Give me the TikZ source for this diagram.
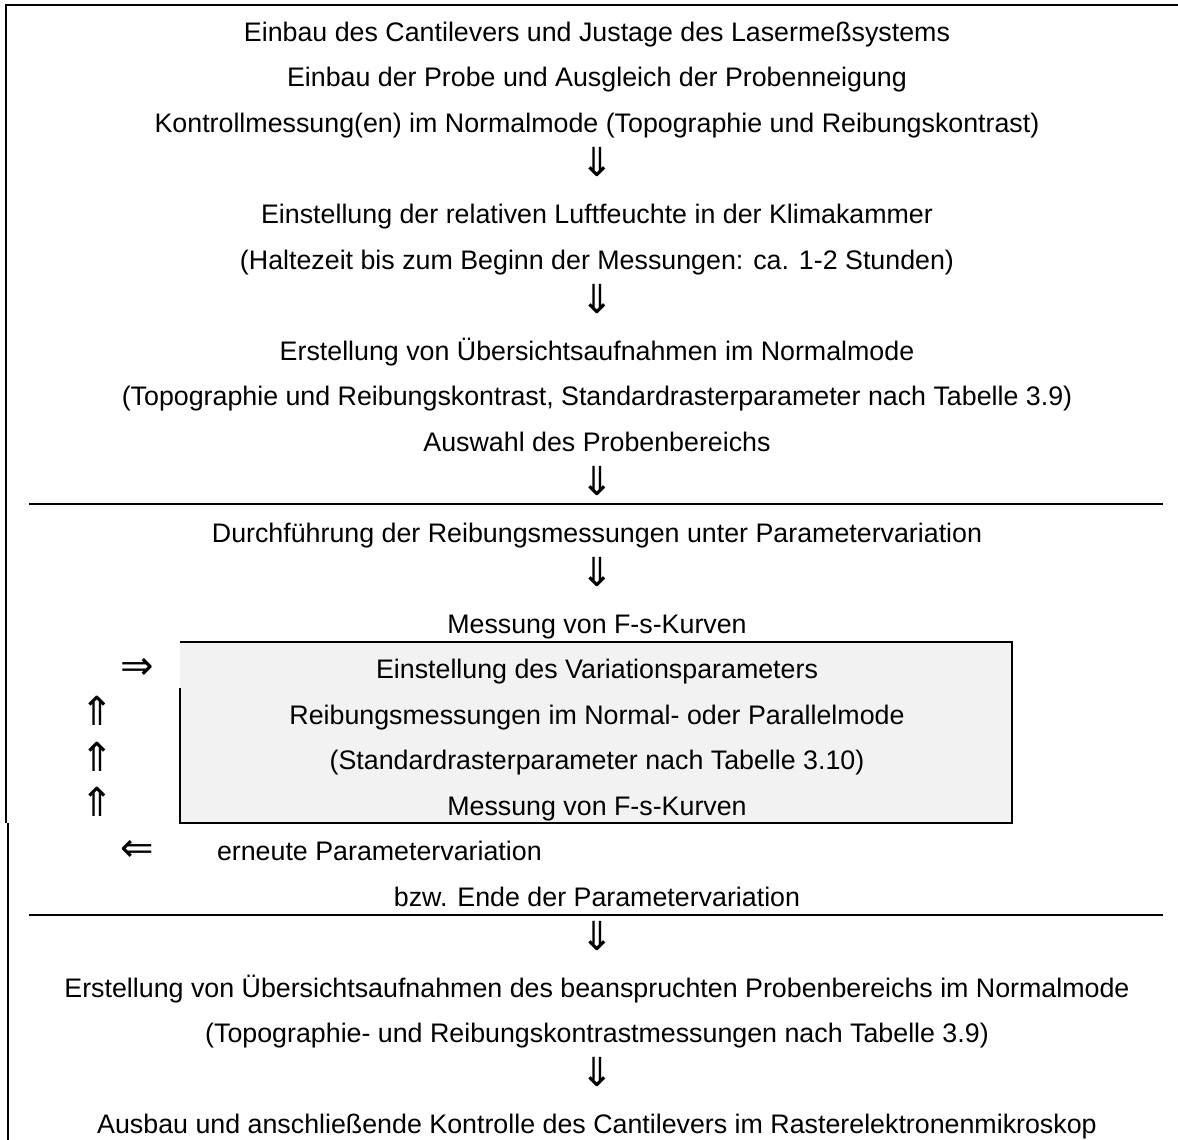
\documentclass[tikz,border=0pt]{standalone}
\usepackage{fontspec}
\setmainfont{Liberation Sans}
\newfontfamily\arrowfont{DejaVu Sans}
\usetikzlibrary{positioning,backgrounds}
\definecolor{boxgray}{RGB}{242,242,242}
\newcommand{\flowdown}{\raisebox{1.5pt}{\arrowfont\fontsize{40}{40}\selectfont ⇓}}
\newcommand{\flowup}{\raisebox{-1.5pt}{\arrowfont\fontsize{40}{40}\selectfont ⇑}}
\newcommand{\flowright}{\raisebox{-1pt}{\arrowfont\fontsize{40}{40}\selectfont ⇒}}
\newcommand{\flowleft}{\raisebox{-1pt}{\arrowfont\fontsize{40}{40}\selectfont ⇐}}

\begin{document}
\begin{tikzpicture}[x=1pt, y=-1pt, node distance=19.5pt,
    every node/.style={inner sep=0pt, outer sep=0pt, text height=20pt, text depth=6pt, font=\fontsize{26.8}{30}\selectfont},
    rule/.style={line width=2pt}]
        \useasboundingbox (0,0) rectangle (1178,1140);
        \node (einbau) at (597,34.5) {Einbau des Cantilevers und Justage des Lasermeßsystems};
        \node (probe) [below=of einbau] {Einbau der Probe und Ausgleich der Probenneigung};
        \node (kontrolle) [below=of probe] {Kontrollmessung(en) im Normalmode (Topographie und Reibungskontrast)};
        \node (down1) [below=of kontrolle] {\flowdown};
        \node (feuchte) [below=of down1] {Einstellung der relativen Luftfeuchte in der Klimakammer};
        \node (haltezeit) [below=of feuchte] {(Haltezeit bis zum Beginn der Messungen: ca. 1-2 Stunden)};
        \node (down2) [below=of haltezeit] {\flowdown};
        \node (uebersicht) [below=of down2] {Erstellung von Übersichtsaufnahmen im Normalmode};
        \node (raster) [below=of uebersicht] {(Topographie und Reibungskontrast, Standardrasterparameter nach Tabelle 3.9)};
        \node (auswahl) [below=of raster] {Auswahl des Probenbereichs};
        \node (down3) [below=of auswahl] {\flowdown};
        \node (durchf) [below=of down3] {Durchführung der Reibungsmessungen unter Parametervariation};
        \node (down4) [below=of durchf] {\flowdown};
        \node (fs1) [below=of down4] {Messung von F-s-Kurven};
        \node (variation) [below=of fs1] {Einstellung des Variationsparameters};
        \node (reibung) [below=of variation] {Reibungsmessungen im Normal- oder Parallelmode};
        \node (raster2) [below=of reibung] {(Standardrasterparameter nach Tabelle 3.10)};
        \node (fs2) [below=of raster2] {Messung von F-s-Kurven};
        \node (ende) [below=of fs2, yshift=-45.5pt] {bzw. Ende der Parametervariation};
        \node (erneut) [anchor=west, yshift=45.5pt] at (217,0 |- ende) {erneute Parametervariation};
        \node (down5) [below=of ende] {\flowdown};
        \node (uebersicht2) [below=of down5] {Erstellung von Übersichtsaufnahmen des beanspruchten Probenbereichs im Normalmode};
        \node (messungen) [below=of uebersicht2] {(Topographie- und Reibungskontrastmessungen nach Tabelle 3.9)};
        \node (down6) [below=of messungen] {\flowdown};
        \node (ausbau) [below=of down6] {Ausbau und anschließende Kontrolle des Cantilevers im Rasterelektronenmikroskop};

        % Schleife links neben dem Kasten
        \node (right) at (137,0 |- variation) {\flowright};
        \node (up1) at (97,0 |- reibung) {\flowup};
        \node (up2) at (97,0 |- raster2) {\flowup};
        \node (up3) at (97,0 |- fs2) {\flowup};
        \node (left) at (137,0 |- erneut) {\flowleft};

        % Kasten und Rahmen
        \begin{scope}[on background layer]
            \fill[boxgray] (180,642) rectangle (1012,823);
            \draw[line width=1.5pt] (180,642) -- (1012,642) -- (1012,688);
            \draw[rule] (1011.5,688) -- (1011.5,823) -- (180,823) -- (180,688);
        \end{scope}
        \draw[rule] (6,823) -- (6,5) -- (1178,5);
        \draw[rule] (7.5,823) -- (7.5,1140);
        \draw[rule] (29,503.5) -- (1163,503.5);
        \draw[rule] (29,915) -- (1163,915);
    \end{tikzpicture}
\end{document}
